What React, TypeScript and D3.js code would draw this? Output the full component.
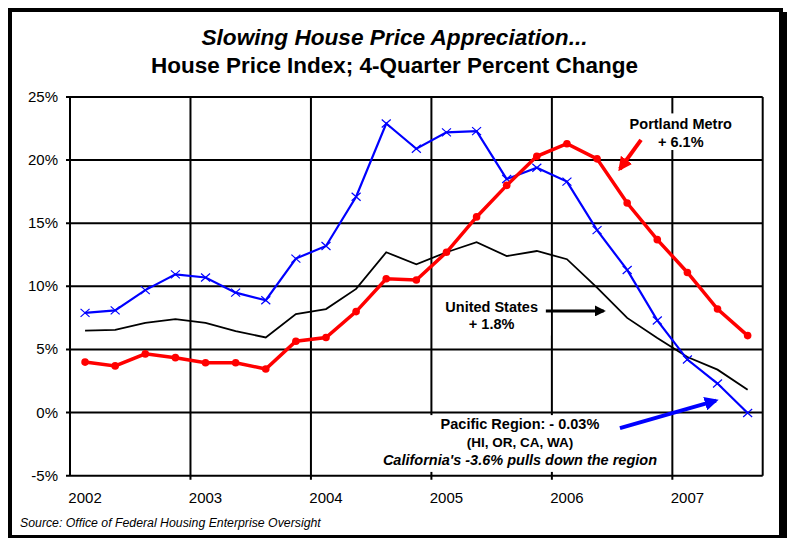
import React from 'react';
import * as d3 from 'd3';

// quarterly observations, 2002Q1 .. 2007Q3
const quarters = [
    '2002Q1', '2002Q2', '2002Q3', '2002Q4',
    '2003Q1', '2003Q2', '2003Q3', '2003Q4',
    '2004Q1', '2004Q2', '2004Q3', '2004Q4',
    '2005Q1', '2005Q2', '2005Q3', '2005Q4',
    '2006Q1', '2006Q2', '2006Q3', '2006Q4',
    '2007Q1', '2007Q2', '2007Q3'
];
const pacific = [7.9, 8.1, 9.7, 10.95, 10.7, 9.5, 8.9, 12.2, 13.2, 17.1, 22.9, 20.9,
    22.2, 22.3, 18.5, 19.4, 18.3, 14.45, 11.3, 7.3, 4.2, 2.3, -0.03];
const unitedStates = [6.5, 6.55, 7.1, 7.4, 7.1, 6.45, 5.95, 7.8, 8.2, 9.8, 12.7, 11.75,
    12.7, 13.5, 12.4, 12.8, 12.15, 9.9, 7.5, 5.9, 4.4, 3.4, 1.8];
const portland = [4.0, 3.7, 4.65, 4.35, 3.95, 3.95, 3.45, 5.65, 5.95, 8.0, 10.6, 10.5,
    12.7, 15.5, 18.0, 20.3, 21.3, 20.1, 16.6, 13.7, 11.1, 8.2, 6.1];

const yTicks = [-5, 0, 5, 10, 15, 20, 25];
const years = [2002, 2003, 2004, 2005, 2006, 2007];

const W = 789;
const H = 538;
const FONT = "Arial, 'Liberation Sans', sans-serif";

const qPos = (q: string) => +q.slice(0, 4) + (+q.slice(5) - 0.5) / 4;

const App = () => {
    const x = d3.scaleLinear().domain([2002, 2007.75]).range([70, 762.7]);
    const y = d3.scaleLinear().domain([-5, 25]).range([475.7, 97]);

    const line = d3.line<number>()
        .x((d, i) => x(qPos(quarters[i])))
        .y(d => y(d));

    const arrow = (id: string, color: string, size: number) => (
        <marker id={id} viewBox="0 0 10 10" refX="8" refY="5"
                markerUnits="userSpaceOnUse" markerWidth={size} markerHeight={size}
                orient="auto">
            <path d="M0,0 L10,5 L0,10 z" fill={color}/>
        </marker>
    );

    return (
        <svg width={W} height={H} style={{position: 'absolute', left: 0, top: 0, background: '#fff'}}
             fontFamily={FONT}>
            <defs>
                {arrow('headRed', '#ff0000', 14)}
                {arrow('headBlue', '#0000ff', 14)}
                {arrow('headBlack', '#000', 11)}
            </defs>

            {/* frame with shadow */}
            <rect x={10} y={10} width={771} height={527} fill="none" stroke="#000" strokeWidth={4}/>
            <rect x={783} y={12} width={4} height={526} fill="#000"/>

            <text x={W / 2} y={45} textAnchor="middle" fontSize={22} fontWeight="bold"
                  fontStyle="italic" textLength={386} lengthAdjust="spacingAndGlyphs">
                Slowing House Price Appreciation...</text>
            <text x={W / 2} y={73} textAnchor="middle" fontSize={22} fontWeight="bold"
                  textLength={487} lengthAdjust="spacingAndGlyphs">
                House Price Index; 4-Quarter Percent Change</text>

            {/* grid */}
            <g stroke="#000" strokeWidth={2}>
                {yTicks.map(t => (
                    <line key={t} x1={x(2002) - 4} x2={x(2007.75)} y1={y(t)} y2={y(t)}/>
                ))}
                {years.map(yr => (
                    <line key={yr} x1={x(yr)} x2={x(yr)} y1={y(25)} y2={y(-5) + (yr > 2002 ? 4 : 0)}/>
                ))}
                <line x1={x(2007.75)} x2={x(2007.75)} y1={y(25)} y2={y(-5)}/>
            </g>
            <g fontSize={15} fill="#000">
                {yTicks.map(t => (
                    <text key={t} x={58} y={y(t) + 5} textAnchor="end">{t}%</text>
                ))}
                {years.map(yr => (
                    <text key={yr} x={x(qPos(yr + 'Q1'))} y={503} textAnchor="middle">{yr}</text>
                ))}
            </g>

            {/* annotation boxes */}
            <rect x={x(2006.62)} y={y(23.7)} width={x(2007.54) - x(2006.62)} height={y(20.8) - y(23.7)} fill="#fff"/>
            <rect x={x(2005.02)} y={y(9.7)} width={x(2005.99) - x(2005.02)} height={y(6.1) - y(9.7)} fill="#fff"/>
            <rect x={x(2004.56)} y={y(-0.2)} width={x(2006.96) - x(2004.56)} height={y(-4.7) - y(-0.2)} fill="#fff"/>

            {/* series */}
            <path d={line(unitedStates) ?? ''} fill="none" stroke="#000" strokeWidth={1.8}/>
            <path d={line(pacific) ?? ''} fill="none" stroke="#0000ff" strokeWidth={2.2}/>
            <g stroke="#0000ff" strokeWidth={1.2}>
                {pacific.map((v, i) => {
                    const cx = x(qPos(quarters[i])), cy = y(v);
                    return <path key={i} d={`M${cx - 4.5},${cy - 4}L${cx + 4.5},${cy + 4}M${cx - 4.5},${cy + 4}L${cx + 4.5},${cy - 4}`}/>;
                })}
            </g>
            <path d={line(portland) ?? ''} fill="none" stroke="#ff0000" strokeWidth={3.5}/>
            <g fill="#ff0000">
                {portland.map((v, i) => (
                    <circle key={i} cx={x(qPos(quarters[i]))} cy={y(v)} r={3.8}/>
                ))}
            </g>

            {/* annotations */}
            <g fontSize={14.5} fontWeight="bold" textAnchor="middle">
                <text x={x(2007.07)} y={y(22.5)}>Portland Metro</text>
                <text x={x(2007.07)} y={y(21.05)}>+ 6.1%</text>
                <text x={x(2005.5)} y={y(8.0)}>United States</text>
                <text x={x(2005.5)} y={y(6.6)}>+ 1.8%</text>
                <text x={x(2005.735)} y={y(-1.31)}>Pacific Region: - 0.03%</text>
                <text x={x(2005.735)} y={y(-2.74)} fontSize={13.5}>(HI, OR, CA, WA)</text>
                <text x={x(2005.735)} y={y(-4.14)} fontStyle="italic">California's -3.6% pulls down the region</text>
            </g>
            <line x1={x(2006.74)} y1={y(21.6)} x2={x(2006.565)} y2={y(19.3)}
                  stroke="#ff0000" strokeWidth={4} markerEnd="url(#headRed)"/>
            <line x1={x(2005.95)} y1={y(8.05)} x2={x(2006.43)} y2={y(8.05)}
                  stroke="#000" strokeWidth={3} markerEnd="url(#headBlack)"/>
            <line x1={x(2006.565)} y1={y(-1.23)} x2={x(2007.362)} y2={y(0.95)}
                  stroke="#0000ff" strokeWidth={4} markerEnd="url(#headBlue)"/>

            <text x={20} y={527} fontSize={12.3} fontStyle="italic">
                Source: Office of Federal Housing Enterprise Oversight</text>
        </svg>
    );
};

export default App;
